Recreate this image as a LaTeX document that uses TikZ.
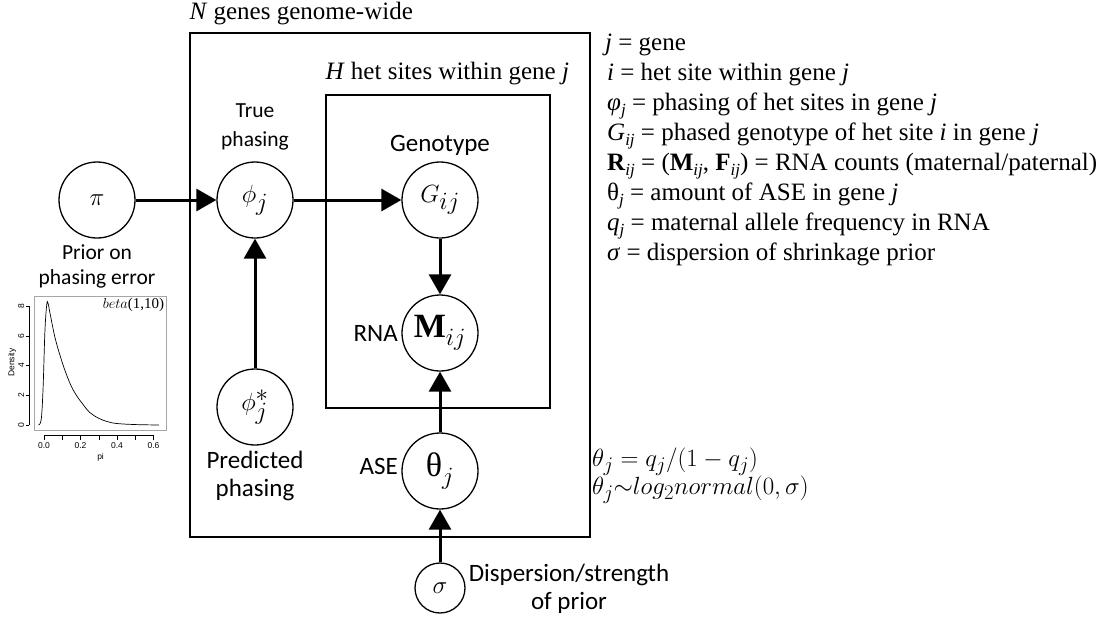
\documentclass[tikz,border=0pt]{standalone}
\usepackage{fontspec}
\setmainfont{Liberation Serif}
\setsansfont{Carlito}
\newfontfamily\plotfont{Liberation Sans}
\usetikzlibrary{arrows.meta}
\newcommand{\sub}[1]{\raisebox{-0.22em}{\fontsize{17}{17}\selectfont\textit{#1}}}

\begin{document}
\begin{tikzpicture}[x=1pt,y=-1pt,
    var/.style={circle,draw,line width=1.3pt,minimum size=76pt,inner sep=0pt,
      font=\fontsize{34}{38}\selectfont},
    hyper/.style={circle,draw,line width=1.3pt,minimum size=50pt,inner sep=0pt,
      font=\fontsize{30}{34}\selectfont},
    plate/.style={draw,line width=1.3pt,inner sep=0pt},
    platelabel/.style={anchor=base west,inner sep=0pt,font=\fontsize{25}{30}\selectfont},
    edge/.style={-{Triangle[length=20pt,width=22pt]},line width=3pt},
    lbl/.style={font=\sffamily\fontsize{25}{28}\selectfont,align=center,inner sep=0pt},
    smalllbl/.style={font=\sffamily\fontsize{21.5}{29}\selectfont,align=center,inner sep=0pt},
    legend/.style={anchor=base west,inner sep=0pt,font=\fontsize{25}{30}\selectfont},
    tick/.style={font=\plotfont\fontsize{8.5}{10}\selectfont,inner sep=1pt}]

  \useasboundingbox (0,0) rectangle (1108,622);

  % plates
  \node[plate,minimum width=400pt,minimum height=504pt] (genes) at (390,285) {};
  \node[plate,minimum width=224pt,minimum height=313pt] (sites) at (438,251.5) {};
  \node[platelabel] (geneslbl) at ([yshift=13pt]genes.north west) {\textit{N} genes genome-wide};
  \node[platelabel] (siteslbl) at ([yshift=15pt]sites.north west) {\textit{H} het sites within gene \textit{j}};

  % nodes
  \node[var] (pi) at (97,200) {$\pi$};
  \node[var] (phi) at (255,200) {$\phi_j$};
  \node[var] (G) at (440,200) {$G_{ij}$};
  \node[var] (M) at (440,333) {$\mathbf{M}_{ij}$};
  \node[var] (phistar) at (255,407) {$\phi_j^*$};
  \node[var] (theta) at (440,471) {{\rmfamily θ}$_j$};
  \node[hyper] (sigma) at (440,588) {$\sigma$};

  % arrows
  \draw[edge] (pi) -- (phi);
  \draw[edge] (phi) -- (G);
  \draw[edge] (phistar) -- (phi);
  \draw[edge] (G) -- (M);
  \draw[edge] (theta) -- (M);
  \draw[edge] (sigma) -- (theta);

  % labels
  \node[smalllbl] (truelbl) at (255,127) {True\\phasing};
  \node[lbl] (genolbl) at (440,145) {Genotype};
  \node[smalllbl,font=\sffamily\fontsize{21.5}{25}\selectfont] (priorlbl) at (97,266) {Prior on\\phasing error};
  \node[lbl,anchor=east] (rnalbl) at (398,333) {RNA};
  \node[lbl,anchor=east] (aselbl) at (398,466) {ASE};
  \node[lbl] (predlbl) at (255,476) {Predicted\\phasing};
  \node[lbl] (displbl) at (569,589) {Dispersion/strength\\of prior};

  % legend
  \node[legend] (leg1) at (605,50) {\textit{j} = gene};
  \node[legend] (leg2) at (607,80) {\textit{i} = het site within gene \textit{j}};
  \node[legend] (leg3) at (607,110) {\textit{φ}\sub{j} = phasing of het sites in gene \textit{j}};
  \node[legend] (leg4) at (607,140) {\textit{G}\sub{ij} = phased genotype of het site \textit{i} in gene \textit{j}};
  \node[legend] (leg5) at (607,170) {\textbf{R}\sub{ij} = (\textbf{M}\sub{ij}, \textbf{F}\sub{ij}) = RNA counts (maternal/paternal)};
  \node[legend] (leg6) at (607,200) {θ\sub{j} = amount of ASE in gene \textit{j}};
  \node[legend] (leg7) at (607,230) {\textit{q}\sub{j} = maternal allele frequency in RNA};
  \node[legend] (leg8) at (607,260) {\textit{σ} = dispersion of shrinkage prior};
  \node[anchor=west,inner sep=0pt,align=left,font=\fontsize{28}{28}\selectfont] (formula) at (592,476)
    {$\theta_j = q_j/(1-q_j)$\\ $\theta_j{\sim}log_2normal(0,\sigma)$};

  % density plot
  \begin{scope}[shift={(44,425)},x=182.5pt,y={(0pt,14.85pt)}]
    \draw[gray!70,line width=0.6pt] (-0.055,-0.34) rectangle (0.668,8.69);
    \draw[line width=0.7pt] plot[smooth,tension=0.6] coordinates {(-0.03,0) (-0.015,0.4) (-0.005,2.5)
      (0.005,6.3) (0.015,8.1) (0.022,8.2) (0.035,7.4) (0.06,5.9) (0.09,4.6) (0.12,3.5)
      (0.15,2.6) (0.18,1.95) (0.21,1.45) (0.25,0.85) (0.3,0.45) (0.35,0.22) (0.4,0.1)
      (0.5,0.03) (0.63,0)};
    \draw[line width=0.4pt] (-0.08,0) -- (-0.08,8);
    \draw[line width=0.4pt] (0,-0.69) -- (0.6,-0.69);
    \node[tick,rotate=90] at (-0.125,0) {0};
    \node[tick,rotate=90] at (-0.125,2) {2};
    \node[tick,rotate=90] at (-0.125,4) {4};
    \node[tick,rotate=90] at (-0.125,6) {6};
    \node[tick,rotate=90] at (-0.125,8) {8};
    \draw[line width=0.4pt] (-0.08,0) -- ++(-0.02,0) (-0.08,2) -- ++(-0.02,0) (-0.08,4) -- ++(-0.02,0)
      (-0.08,6) -- ++(-0.02,0) (-0.08,8) -- ++(-0.02,0);
    \draw[line width=0.4pt] (0,-0.69) -- ++(0,-0.3) (0.1,-0.69) -- ++(0,-0.3) (0.2,-0.69) -- ++(0,-0.3)
      (0.3,-0.69) -- ++(0,-0.3) (0.4,-0.69) -- ++(0,-0.3) (0.5,-0.69) -- ++(0,-0.3) (0.6,-0.69) -- ++(0,-0.3);
    \node[tick] at (0,-1.4) {0.0};
    \node[tick] at (0.2,-1.4) {0.2};
    \node[tick] at (0.4,-1.4) {0.4};
    \node[tick] at (0.6,-1.4) {0.6};
    \node[tick] at (0.31,-2.2) {pi};
    \node[tick,rotate=90] at (-0.175,4.2) {Density};
    \node[anchor=north east,inner sep=1pt,font=\fontsize{15}{17}\selectfont] at (0.665,8.6) {$beta$(1,10)};
  \end{scope}

\end{tikzpicture}
\end{document}
